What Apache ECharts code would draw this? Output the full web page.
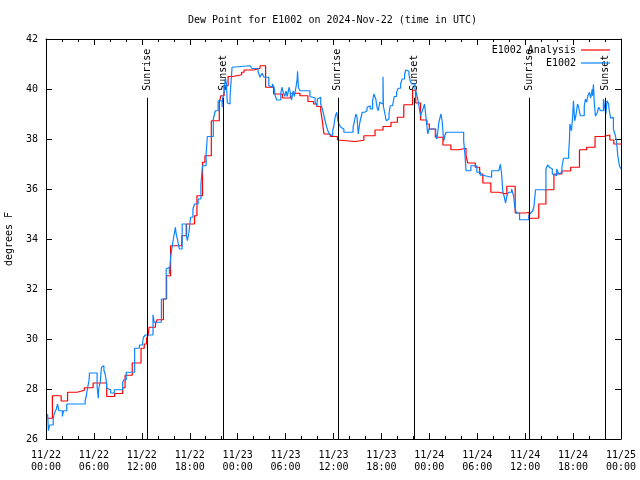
<!DOCTYPE html>
<html>
<head>
<meta charset="utf-8">
<script src="https://cdn.jsdelivr.net/npm/echarts@6/dist/echarts.min.js"></script>
<style>html,body{margin:0;padding:0;background:#fff}#c{width:640px;height:480px}</style>
</head>
<body>
<div id="c"></div>
<script>
const titleText = 'Dew Point for E1002 on 2024-Nov-22 (time in UTC)';
const tickLabels = ['11/22\n00:00','11/22\n06:00','11/22\n12:00','11/22\n18:00','11/23\n00:00','11/23\n06:00','11/23\n12:00','11/23\n18:00','11/24\n00:00','11/24\n06:00','11/24\n12:00','11/24\n18:00','11/25\n00:00'];
const seriesNames = ['E1002 Analysis', 'E1002'];
// hours since 2024-11-22 00:00 UTC, dew point (F)
const analysisData = [[0.2,26.83],[0.8,27.73],[1.9,27.52],[2.7,27.87],[3.9,27.95],[4.8,28.05],[5.9,28.24],[7.6,27.7],[8.6,27.82],[9.6,28.05],[9.9,28.55],[10.8,29.04],[11.9,29.63],[12.3,29.8],[12.6,30.03],[12.8,30.16],[12.9,30.47],[13.7,30.6],[13.9,30.77],[14.7,31.6],[15.1,32.53],[15.6,33.73],[17.0,34.13],[17.6,34.6],[18.6,34.93],[18.9,35.73],[19.6,37.07],[19.9,37.33],[20.7,38.73],[21.7,39.47],[21.9,39.73],[22.3,40.13],[22.8,40.5],[23.4,40.57],[24.5,40.67],[24.8,40.76],[26.0,40.8],[26.5,40.83],[26.8,40.93],[27.5,40.07],[28.5,39.8],[29.6,39.64],[30.6,39.83],[31.8,39.73],[32.8,39.5],[33.5,39.4],[33.9,39.3],[34.4,39.13],[34.6,38.73],[34.8,38.2],[35.6,38.1],[36.5,37.96],[36.7,37.9],[38.7,37.95],[39.8,38.13],[41.2,38.36],[42.2,38.5],[43.2,38.67],[44.0,38.87],[44.8,39.37],[45.9,39.95],[46.3,39.44],[46.9,38.76],[47.7,38.6],[48.0,38.4],[48.75,38.07],[49.7,37.76],[50.7,37.57],[51.7,37.63],[52.6,37.33],[52.8,37.04],[53.75,36.87],[54.3,36.6],[54.7,36.24],[55.7,35.87],[56.7,35.8],[57.7,36.11],[58.75,35.04],[60.0,35.07],[60.5,34.83],[61.7,35.4],[62.6,35.97],[63.6,36.6],[64.6,36.72],[65.7,36.87],[66.8,37.57],[67.7,37.67],[68.75,38.1],[69.8,38.16],[70.6,37.96],[71.1,37.8],[72,37.8]];
const stationData = [[0.2,27.0],[0.3,26.33],[0.45,26.56],[0.9,26.8],[1.05,27.04],[1.3,27.2],[1.45,27.4],[1.6,27.13],[2.05,26.9],[2.2,27.13],[2.6,27.4],[4.9,27.53],[5.05,27.73],[5.2,28.03],[5.4,28.37],[5.45,28.64],[6.4,28.1],[6.55,27.63],[6.6,28.0],[6.8,28.3],[6.95,28.87],[7.1,28.93],[7.25,28.75],[7.4,28.6],[7.55,28.33],[7.6,28.03],[7.8,27.97],[8.1,27.84],[8.55,27.97],[9.6,28.27],[9.75,28.37],[10.05,28.67],[11.1,29.63],[11.7,29.76],[12.1,29.87],[12.2,30.07],[12.45,30.16],[13.4,30.97],[13.55,30.67],[14.45,31.6],[15.05,32.8],[15.2,32.87],[15.45,32.6],[15.6,33.27],[15.8,33.7],[15.95,34.0],[16.2,34.47],[16.3,34.2],[16.45,34.0],[16.7,33.6],[17.05,34.6],[17.55,34.2],[17.7,33.93],[17.9,34.27],[18.1,34.87],[18.4,35.2],[18.6,35.4],[19.05,35.6],[19.4,36.2],[19.6,36.93],[20.05,37.4],[20.2,38.1],[20.95,38.8],[21.2,39.13],[21.55,39.53],[22.05,39.27],[22.1,39.6],[22.3,39.87],[22.45,40.43],[22.6,40.2],[22.7,39.44],[22.8,39.4],[23.05,39.73],[23.3,40.87],[23.55,40.93],[25.55,40.87],[25.8,40.82],[26.55,40.7],[26.8,40.47],[27.05,40.63],[27.3,40.47],[27.9,40.13],[28.0,40.07],[28.35,40.2],[28.55,40.07],[28.7,39.73],[28.9,39.56],[29.4,39.83],[29.55,40.07],[29.7,39.87],[29.9,39.7],[30.05,39.93],[30.2,39.7],[30.45,40.07],[30.6,39.83],[30.75,39.56],[30.95,39.93],[31.1,39.7],[31.3,40.07],[31.45,40.4],[31.5,40.71],[31.6,40.07],[31.8,39.93],[33.05,39.7],[33.3,39.64],[33.7,39.47],[33.9,39.33],[34.0,39.6],[34.2,39.67],[34.4,39.4],[34.6,39.2],[34.8,38.93],[34.95,38.73],[35.1,38.53],[35.3,38.33],[35.45,38.2],[35.6,38.13],[35.9,38.33],[36.05,38.53],[36.2,38.87],[36.4,39.07],[36.55,38.73],[36.7,38.6],[36.9,38.47],[37.1,38.4],[37.3,38.27],[38.45,38.47],[38.6,38.67],[38.8,39.0],[38.95,38.87],[39.1,38.2],[39.3,38.67],[39.45,38.87],[39.6,39.07],[39.9,39.13],[40.2,39.27],[40.4,39.33],[40.6,39.2],[40.9,39.53],[41.05,39.8],[41.3,39.6],[41.45,39.27],[41.6,39.13],[41.8,39.47],[42.05,39.4],[42.2,40.49],[42.25,39.3],[42.4,39.07],[42.6,38.73],[42.75,38.8],[42.95,39.0],[43.1,39.33],[43.4,39.4],[43.6,39.7],[43.9,39.87],[44.1,40.03],[44.4,40.2],[44.6,40.4],[44.9,40.57],[45.05,40.76],[45.3,40.71],[45.45,40.57],[45.6,40.33],[45.8,40.2],[46.2,40.0],[46.35,39.87],[46.55,39.6],[46.7,39.33],[46.9,38.93],[47.05,39.07],[47.2,39.2],[47.4,39.4],[47.6,38.8],[47.8,38.2],[47.95,38.4],[48.8,38.2],[48.95,38.0],[49.2,38.67],[49.35,38.73],[49.45,39.0],[49.6,38.73],[49.8,37.93],[49.95,38.13],[50.1,38.27],[52.3,37.93],[52.45,37.4],[52.6,36.73],[53.2,36.93],[53.95,36.67],[54.4,36.55],[54.7,36.47],[55.8,36.73],[56.7,36.8],[56.9,36.99],[57.05,36.6],[57.2,35.89],[57.35,35.73],[57.55,35.44],[57.7,35.71],[57.9,35.87],[58.3,36.0],[58.55,35.73],[58.7,35.27],[58.9,35.04],[59.3,34.77],[60.45,34.93],[60.7,35.04],[60.95,35.13],[61.1,35.3],[61.3,35.97],[62.6,36.8],[62.8,36.96],[63.05,36.87],[63.2,36.8],[63.4,36.6],[63.55,36.53],[63.95,36.8],[64.2,36.6],[64.4,36.67],[64.6,36.87],[64.8,37.23],[65.45,37.47],[65.55,38.0],[65.6,38.6],[65.8,38.33],[65.95,38.93],[66.05,39.53],[66.2,38.73],[66.35,38.93],[66.55,39.4],[66.7,39.27],[66.9,38.93],[67.4,39.33],[67.55,39.6],[67.7,39.47],[67.85,39.73],[68.05,39.87],[68.2,39.63],[68.4,40.0],[68.45,39.73],[68.55,40.19],[68.65,39.47],[68.8,38.91],[69.05,39.07],[69.2,39.27],[69.45,39.13],[69.8,39.6],[69.95,39.27],[70.1,39.0],[70.25,39.53],[70.45,39.4],[70.5,39.2],[70.7,38.83],[70.85,38.87],[71.05,38.4],[71.3,38.13],[71.45,37.87],[71.6,37.33],[71.8,36.93],[72,36.8]];
const sunHours = [12.66, 22.17, 36.54, 46.1, 60.5, 70.04];
const sunLabels = ['Sunrise', 'Sunset', 'Sunrise', 'Sunset', 'Sunrise', 'Sunset'];
const sunLineTop = 39.65;

const FONT = 'DejaVu Sans Mono';
const chart = echarts.init(document.getElementById('c'), null, {renderer: 'canvas'});
const axisCommonX = {
  type: 'value', min: 0, max: 72, interval: 6,
  axisLine: {show: true, onZero: false, lineStyle: {color: '#000', width: 1}},
  axisTick: {show: true, inside: true, length: 6, lineStyle: {color: '#000'}},
  minorTick: {show: true, splitNumber: 3, length: 3, lineStyle: {color: '#000'}},
  splitLine: {show: false}
};
const axisCommonY = {
  type: 'value', min: 26, max: 42, interval: 2,
  axisLine: {show: true, onZero: false, lineStyle: {color: '#000', width: 1}},
  axisTick: {show: true, inside: true, length: 6, lineStyle: {color: '#000'}},
  splitLine: {show: false}
};
chart.setOption({
  animation: false,
  backgroundColor: '#fff',
  title: {
    text: titleText, left: 188, top: 15, padding: 0,
    textStyle: {fontFamily: FONT, fontSize: 10, fontWeight: 'normal', color: '#000'}
  },
  legend: {
    data: [{name: seriesNames[0], icon: 'rect'}, {name: seriesNames[1], icon: 'rect'}],
    orient: 'vertical', align: 'right', right: 30, top: 44,
    itemWidth: 29, itemHeight: 1.2, itemGap: 1, padding: 0,
    textStyle: {fontFamily: FONT, fontSize: 10, color: '#000', lineHeight: 12}
  },
  grid: {left: 46, right: 19, top: 39, bottom: 41, show: false, containLabel: false, outerBoundsMode: 'none'},
  xAxis: [
    Object.assign({}, axisCommonX, {position: 'bottom',
      axisLabel: {show: true, margin: 10, lineHeight: 12, fontFamily: FONT, fontSize: 10, color: '#000',
        formatter: v => tickLabels[Math.round(v / 6)]}}),
    Object.assign({}, axisCommonX, {position: 'top', axisLabel: {show: false}})
  ],
  yAxis: [
    Object.assign({}, axisCommonY, {position: 'left',
      name: 'degrees F', nameLocation: 'middle', nameGap: 32, nameRotate: 90,
      nameTextStyle: {fontFamily: FONT, fontSize: 10, color: '#000'},
      axisLabel: {show: true, margin: 8, fontFamily: FONT, fontSize: 10, color: '#000'}}),
    Object.assign({}, axisCommonY, {position: 'right', axisLabel: {show: false}})
  ],
  series: [
    {
      name: 'sun', type: 'scatter', symbolSize: 0, silent: true, z: 1,
      itemStyle: {opacity: 1},
      data: sunHours.map((h, i) => ({value: [h, sunLineTop], name: sunLabels[i]})),
      label: {show: true, formatter: p => p.name, position: 'top', distance: 7, rotate: 90, opacity: 1,
        align: 'left', verticalAlign: 'middle', fontFamily: FONT, fontSize: 10, color: '#000'},
      markLine: {
        silent: true, symbol: 'none', label: {show: false},
        lineStyle: {color: '#000', width: 1, type: 'solid', opacity: 1},
        data: sunHours.map(h => [{coord: [h, 26]}, {coord: [h, sunLineTop]}])
      }
    },
    {
      name: seriesNames[0], type: 'line', step: 'end', symbol: 'none', z: 2,
      data: analysisData, lineStyle: {color: '#ff0000', width: 1.2}, itemStyle: {color: '#ff0000'}
    },
    {
      name: seriesNames[1], type: 'line', step: 'end', symbol: 'none', z: 3,
      data: stationData, lineStyle: {color: '#0a84ff', width: 1.2}, itemStyle: {color: '#0a84ff'}
    }
  ]
});
</script>
</body>
</html>
